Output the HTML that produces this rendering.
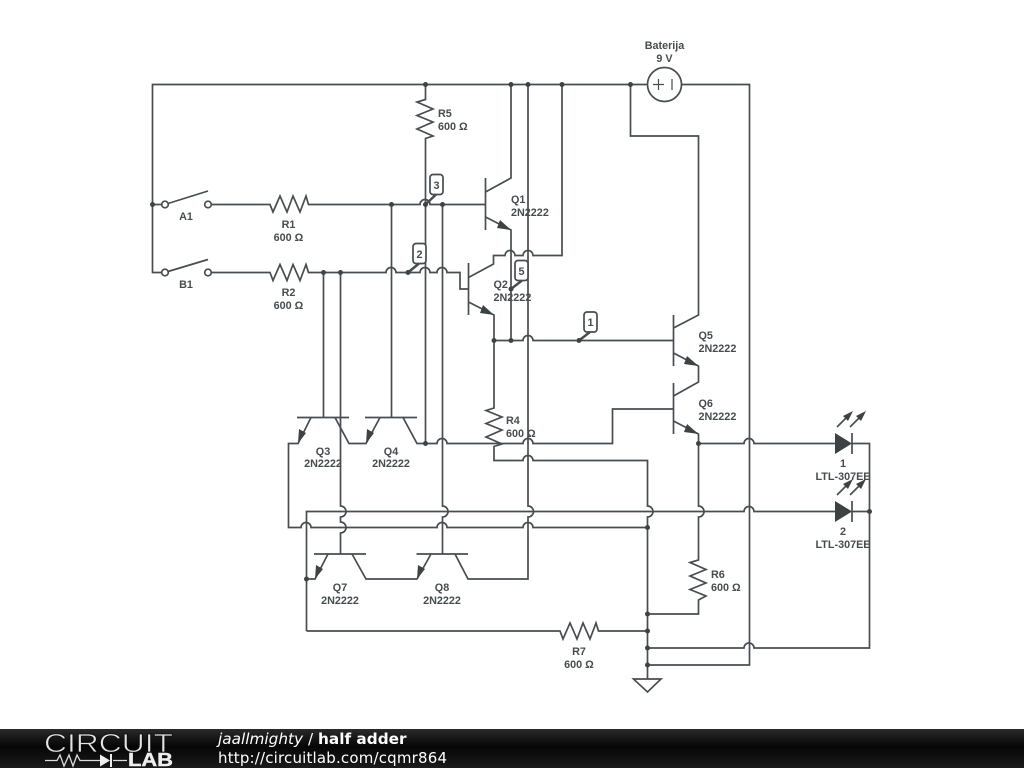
<!DOCTYPE html>
<html>
<head>
<meta charset="utf-8">
<style>
html,body{margin:0;padding:0;background:#fff;width:1024px;height:768px;overflow:hidden}
svg{display:block}
.w{fill:none;stroke:#474d50;stroke-width:1.7;stroke-linejoin:miter}
.d{fill:#3d4345}
.f{fill:#3d4345;stroke:none}
.t{font-family:"Liberation Sans",sans-serif;font-weight:bold;font-size:10.8px;fill:#474c4f}
.m{text-anchor:middle}
</style>
</head>
<body>
<svg width="1024" height="768" viewBox="0 0 1024 768" xmlns="http://www.w3.org/2000/svg">
<rect width="1024" height="768" fill="#fff"/>
<g class="w">
<!-- supply rail -->
<path d="M647.5 84.5H152.5V272.5H162"/>
<path d="M152.5 204.5H162"/>
<path d="M681.5 84.5H749.5V665H647.5"/>
<path d="M630.5 84.5V136H698.5V315L673.5 328"/>
<!-- switches -->
<circle cx="165" cy="204.5" r="3.3"/><circle cx="208" cy="204.5" r="3.3"/>
<path d="M168 203.5L208 191"/>
<circle cx="165" cy="272.5" r="3.3"/><circle cx="208" cy="272.5" r="3.3"/>
<path d="M168 271.5L208 259.5"/>
<!-- A line -->
<path d="M211.5 204.5H270L273 212L280 196L287 212L293 196L300 212L306 196L308.5 204.5H420a5 5 0 0 1 10 0H485"/>
<!-- B line -->
<path d="M211.5 272.5H270L273 280.5L280 264.5L287 280.5L293 264.5L300 280.5L306 264.5L308.5 272.5H386a5 5 0 0 1 10 0H420a5 5 0 0 1 10 0H437a5 5 0 0 1 10 0H460V289H468"/>
<!-- R5 and 425 line -->
<path d="M425.5 84.5V99.5L417 102L433 109L417 115.5L433 122L417 129L433 136L425.5 138.5V443.5"/>
<!-- Q1 -->
<path d="M485.5 178V230"/>
<path d="M485.5 192L511 178V84.5"/>
<path d="M485.5 217L511 230V340.5"/>
<!-- Q2 -->
<path d="M468.5 263V315"/>
<path d="M468.5 277.5L493.5 264V255.5H505a5 5 0 0 1 10 0H523a5 5 0 0 1 10 0H562V84.5"/>
<path d="M468.5 302L494 315V408L486 410.5L502 417L486 423.5L502 430L486 437L502 444L494 446.5V460.5H523a5 5 0 0 1 10 0H647.5V506a5 5 0 0 1 0 11V679"/>
<!-- base wire Q5 -->
<path d="M494 340.5H523a5 5 0 0 1 10 0H673.5"/>
<!-- Q5 / Q6 -->
<path d="M673.5 315V366"/>
<path d="M673.5 353L698.5 366V382L673.5 396"/>
<path d="M673.5 383V434"/>
<path d="M673.5 421L698.5 434V506a5 5 0 0 1 0 11V560L690 562.5L706 569.5L690 576L706 583L690 589.5L706 596L698.5 600V614H647.5"/>
<!-- verticals -->
<path d="M323.5 272.5V417"/>
<path d="M340.5 272.5V506a5 5 0 0 1 0 11V522a5 5 0 0 1 0 11V554"/>
<path d="M391.5 204.5V417"/>
<path d="M442.5 204.5V506a5 5 0 0 1 0 11V554"/>
<path d="M528 84.5V506a5 5 0 0 1 0 11V579H468L455 554"/>
<!-- Q3 Q4 -->
<path d="M297 417.5H349"/>
<path d="M365 417.5H417"/>
<path d="M311 417.5L298 443.5H288.5V527.5H301a5 5 0 0 1 10 0H437a5 5 0 0 1 10 0H523a5 5 0 0 1 10 0H647.5"/>
<path d="M335 417.5L349 443.5H366L380 417.5"/>
<path d="M403 417.5L417 443.5H437a5 5 0 0 1 10 0H523a5 5 0 0 1 10 0H612.5V409H673.5"/>
<!-- Q7 Q8 -->
<path d="M314 554H366"/>
<path d="M416.5 554H468"/>
<path d="M328 554L315 579H306.5"/>
<path d="M352 554L366 579H417L431 554"/>
<!-- 511 line and R7 -->
<path d="M306.5 631V511.5H744a5 5 0 0 1 10 0H835"/>
<path d="M306.5 631H560L563 639L570 623L577 639L583 623L590 639L596 623L598.5 631H647.5"/>
<!-- LED wires -->
<path d="M698.5 443.5H744a5 5 0 0 1 10 0H835"/>
<path d="M852 443.5H869.5V648H754a5 5 0 0 0 -10 0H647.5"/>
<path d="M852 511.5H869.5"/>
<path d="M852 433V454"/>
<path d="M852 501V522"/>
<path d="M837 427L850 414"/>
<path d="M850 427L863 414"/>
<path d="M837 495L850 482"/>
<path d="M850 495L863 482"/>
<!-- battery -->
<circle cx="664.5" cy="84.5" r="17"/>
<path d="M653 84.5H664M658.5 79V90" stroke-width="1.2"/>
<path d="M672 79V90" stroke-width="1.2"/>
<!-- ground -->
<path d="M633.5 679H661L647.5 692Z"/>
<!-- probe bubbles -->
<rect x="430" y="174.5" width="13" height="20" rx="3" fill="#fff"/>
<rect x="413" y="243.5" width="13" height="20" rx="3" fill="#fff"/>
<rect x="515" y="260.5" width="13" height="20" rx="3" fill="#fff"/>
<rect x="584" y="312" width="13" height="20" rx="3" fill="#fff"/>
<path d="M425.5 204.5L436 194.5" stroke-width="2.5"/>
<path d="M408 272.5L419 263.5" stroke-width="2.5"/>
<path d="M511 289L522 280.5" stroke-width="2.5"/>
<path d="M579 340.5L590 332" stroke-width="2.5"/>
</g>
<!-- arrowheads -->
<g class="f">
<path d="M511 230L497 228L500 220Z"/>
<path d="M494 315L480 313L483 305Z"/>
<path d="M698.5 366L684 364L687 356Z"/>
<path d="M698.5 434L684 432L687 424Z"/>
<path d="M298 443.5L299 429L306 433Z"/>
<path d="M366 443.5L367 429L374 433Z"/>
<path d="M315 579L316 565L323 569Z"/>
<path d="M417 579L418 565L425 569Z"/>
<path d="M835 433V454L852 443.5Z"/>
<path d="M835 501V522L852 511.5Z"/>
<path d="M853 411L848 421L843 416Z"/>
<path d="M866 411L861 421L856 416Z"/>
<path d="M853 479L848 489L843 484Z"/>
<path d="M866 479L861 489L856 484Z"/>
</g>
<!-- junction dots -->
<g class="d">
<circle cx="425.5" cy="84.5" r="2.5"/><circle cx="511" cy="84.5" r="2.5"/><circle cx="528" cy="84.5" r="2.5"/><circle cx="562" cy="84.5" r="2.5"/><circle cx="630.5" cy="84.5" r="2.5"/>
<circle cx="152.5" cy="204.5" r="2.5"/><circle cx="391.5" cy="204.5" r="2.5"/><circle cx="425.5" cy="204.5" r="2.5"/><circle cx="442.5" cy="204.5" r="2.5"/>
<circle cx="323.5" cy="272.5" r="2.5"/><circle cx="340.5" cy="272.5" r="2.5"/><circle cx="408" cy="272.5" r="2.5"/>
<circle cx="494" cy="340.5" r="2.5"/><circle cx="511" cy="340.5" r="2.5"/><circle cx="579" cy="340.5" r="2.5"/><circle cx="511" cy="289" r="2.5"/>
<circle cx="425.5" cy="443.5" r="2.5"/><circle cx="698.5" cy="443.5" r="2.5"/><circle cx="869.5" cy="511.5" r="2.5"/>
<circle cx="647.5" cy="527.5" r="2.5"/><circle cx="647.5" cy="614" r="2.5"/><circle cx="647.5" cy="631" r="2.5"/><circle cx="647.5" cy="648" r="2.5"/><circle cx="647.5" cy="665" r="2.5"/>
<circle cx="306.5" cy="579" r="2.5"/>
</g>
<!-- labels -->
<g class="t">
<text class="m" x="664.5" y="49">Baterija</text><text class="m" x="664.5" y="62">9 V</text>
<text class="m" x="186" y="220">A1</text><text class="m" x="186" y="288">B1</text>
<text class="m" x="288.5" y="228">R1</text><text class="m" x="288.5" y="241">600 Ω</text>
<text class="m" x="288.5" y="296">R2</text><text class="m" x="288.5" y="309">600 Ω</text>
<text x="438" y="117">R5</text><text x="438" y="130">600 Ω</text>
<text x="511" y="203">Q1</text><text x="511" y="216">2N2222</text>
<text x="493.5" y="288">Q2</text><text x="493.5" y="301">2N2222</text>
<text x="698.5" y="339">Q5</text><text x="698.5" y="352">2N2222</text>
<text x="698.5" y="407">Q6</text><text x="698.5" y="420">2N2222</text>
<text class="m" x="323" y="455">Q3</text><text class="m" x="323" y="467">2N2222</text>
<text class="m" x="391" y="455">Q4</text><text class="m" x="391" y="467">2N2222</text>
<text class="m" x="340" y="591">Q7</text><text class="m" x="340" y="604">2N2222</text>
<text class="m" x="442" y="591">Q8</text><text class="m" x="442" y="604">2N2222</text>
<text x="506" y="424">R4</text><text x="506" y="437">600 Ω</text>
<text x="711" y="578">R6</text><text x="711" y="591">600 Ω</text>
<text class="m" x="579" y="655">R7</text><text class="m" x="579" y="668">600 Ω</text>
<text class="m" x="843" y="467">1</text><text class="m" x="843" y="480">LTL-307EE</text>
<text class="m" x="843" y="535">2</text><text class="m" x="843" y="548">LTL-307EE</text>
<text class="m" x="436.5" y="189">3</text>
<text class="m" x="419.5" y="258">2</text>
<text class="m" x="521.5" y="275">5</text>
<text class="m" x="590.5" y="326">1</text>
</g>
<!-- footer -->
<defs><linearGradient id="g" x1="0" y1="0" x2="0" y2="1"><stop offset="0" stop-color="#2a2a2a"/><stop offset="0.45" stop-color="#060606"/><stop offset="1" stop-color="#1a1a1a"/></linearGradient></defs>
<rect x="0" y="729" width="1024" height="39" fill="url(#g)"/>
<text x="44" y="752" textLength="129" lengthAdjust="spacingAndGlyphs" stroke="#0c0c0c" stroke-width="0.7" style="font-family:'Liberation Sans',sans-serif;font-size:26px;fill:#e4e4e4">CIRCUIT</text>
<path d="M45 760.5H57L60 755L64 766L69 755L73 766L77 755L80 760.5H100M113 760.5H127" fill="none" stroke="#ddd" stroke-width="1.3"/>
<path d="M100 754.5V766.5L110 760.5Z" fill="#eee"/>
<path d="M111 754V767" stroke="#eee" stroke-width="2"/>
<text x="128" y="766" textLength="45" lengthAdjust="spacingAndGlyphs" stroke="#eee" stroke-width="0.4" style="font-family:'Liberation Sans',sans-serif;font-weight:bold;font-size:18px;fill:#eee">LAB</text>
<text x="218" y="744" style="font-family:'DejaVu Sans',sans-serif;font-size:15.3px;fill:#fff"><tspan font-style="italic">jaallmighty</tspan> / <tspan font-weight="bold">half adder</tspan></text>
<text x="218" y="763" textLength="229" style="font-family:'DejaVu Sans',sans-serif;font-size:15px;fill:#fff">http://circuitlab.com/cqmr864</text>
</svg>
</body>
</html>
